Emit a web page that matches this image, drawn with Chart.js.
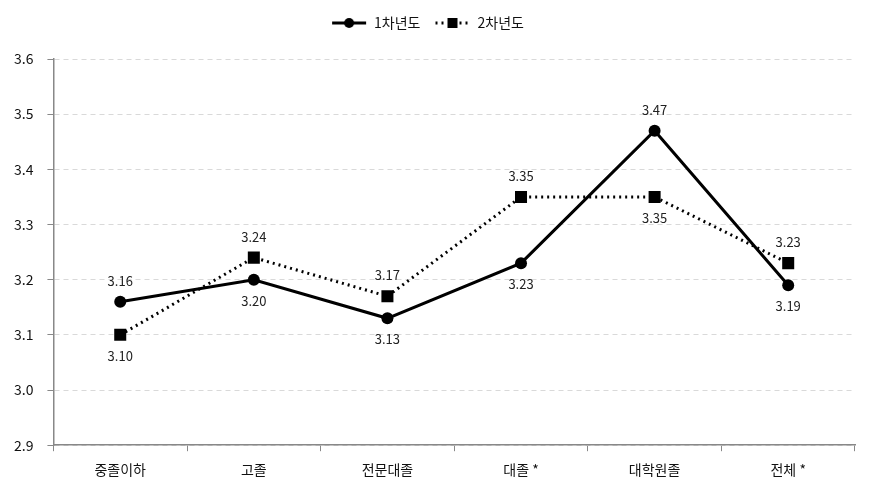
<!DOCTYPE html>
<html>
<head>
<meta charset="utf-8">
<script src="https://cdn.jsdelivr.net/npm/chart.js@4/dist/chart.umd.min.js"></script>
<style>
  html, body { margin: 0; padding: 0; background: #fff; }
  #wrap { width: 871px; height: 493px; }
</style>
</head>
<body>
<div id="wrap"><canvas id="grafico"></canvas></div>
<script>
// Datos del gráfico
const categorias = ['중졸이하', '고졸', '전문대졸', '대졸 *', '대학원졸', '전체 *'];
const anio1 = [3.16, 3.20, 3.13, 3.23, 3.47, 3.19];
const anio2 = [3.10, 3.24, 3.17, 3.35, 3.35, 3.23];
const etiquetasY = ['2.9', '3.0', '3.1', '3.2', '3.3', '3.4', '3.5', '3.6'];

// Posición de las etiquetas (arriba / abajo)
const posAnio1 = ['up', 'down', 'down', 'down', 'up', 'down'];
const posAnio2 = ['down', 'up', 'up', 'up', 'down', 'up'];

const fuente = "'Noto Sans CJK KR', 'Noto Sans', sans-serif";

// Icono de leyenda: línea + marcador
function iconoLeyenda(punteado, forma) {
    const c = document.createElement('canvas');
    c.width = 36; c.height = 14;
    const g = c.getContext('2d');
    g.strokeStyle = '#000';
    g.fillStyle = '#000';
    g.lineWidth = 3;
    if (punteado) g.setLineDash([2, 4]);
    g.beginPath(); g.moveTo(1, 7); g.lineTo(35, 7); g.stroke();
    g.setLineDash([]);
    if (forma === 'circle') {
        g.beginPath(); g.arc(18, 7, 5, 0, Math.PI * 2); g.fill();
    } else {
        g.fillRect(13, 2, 10, 10);
    }
    return c;
}

// Plugin para las etiquetas de valores
const etiquetasValores = {
    id: 'etiquetasValores',
    afterDatasetsDraw(chart) {
        const ctx = chart.ctx;
        ctx.save();
        ctx.font = '13px ' + fuente;
        ctx.fillStyle = '#222';
        ctx.textAlign = 'center';
        ctx.textBaseline = 'middle';
        chart.data.datasets.forEach((ds, i) => {
            const meta = chart.getDatasetMeta(i);
            const pos = i === 0 ? posAnio1 : posAnio2;
            meta.data.forEach((p, j) => {
                const dy = pos[j] === 'up' ? -21 : 21;
                ctx.fillText(ds.data[j].toFixed(2), p.x, p.y + dy);
            });
        });
        ctx.restore();
    }
};

// Más espacio debajo de la leyenda
const espacioLeyenda = {
    id: 'espacioLeyenda',
    beforeInit(chart) {
        const fitOriginal = chart.legend.fit;
        chart.legend.fit = function () {
            fitOriginal.bind(chart.legend)();
            this.height += 19;
        };
    }
};

const data = {
    labels: categorias,
    datasets: [{
        label: '1차년도',
        data: anio1,
        borderColor: '#000',
        backgroundColor: '#000',
        borderWidth: 3,
        pointStyle: 'circle',
        pointRadius: 6,
        pointHoverRadius: 6,
        pointBorderWidth: 0,
        tension: 0
    }, {
        label: '2차년도',
        data: anio2,
        borderColor: '#000',
        backgroundColor: '#000',
        borderWidth: 3,
        borderDash: [2, 4],
        pointStyle: 'rect',
        pointRadius: 8.5,
        pointHoverRadius: 8.5,
        pointBorderWidth: 0,
        tension: 0
    }]
};

const iconos = [iconoLeyenda(false, 'circle'), iconoLeyenda(true, 'rect')];

const config = {
    type: 'line',
    data: data,
    plugins: [etiquetasValores, espacioLeyenda],
    options: {
        responsive: true,
        maintainAspectRatio: false,
        animation: false,
        layout: { padding: { left: 0, right: 16, top: 2, bottom: 5 } },
        plugins: {
            tooltip: { enabled: false },
            legend: {
                position: 'top',
                labels: {
                    usePointStyle: true,
                    pointStyleWidth: 36,
                    boxHeight: 14,
                    padding: 14,
                    color: '#111',
                    font: { family: fuente, size: 14 },
                    generateLabels(chart) {
                        return chart.data.datasets.map((ds, i) => ({
                            text: ds.label,
                            pointStyle: iconos[i],
                            fillStyle: '#000',
                            strokeStyle: '#000',
                            lineWidth: 0,
                            hidden: false,
                            datasetIndex: i,
                            fontColor: '#111'
                        }));
                    }
                }
            }
        },
        scales: {
            x: {
                offset: true,
                grid: {
                    offset: true,
                    drawOnChartArea: false,
                    drawTicks: true,
                    tickLength: 6,
                    tickColor: '#888'
                },
                border: { color: '#888', width: 1.5 },
                ticks: {
                    color: '#111',
                    padding: 10,
                    font: { family: fuente, size: 14 }
                }
            },
            y: {
                min: 2.9,
                max: 3.6,
                grid: {
                    color: '#d9d9d9',
                    tickColor: '#888',
                    tickLength: 6,
                    tickBorderDash: []
                },
                border: { color: '#888', width: 1.5, dash: [5, 4] },
                ticks: {
                    stepSize: 0.1,
                    color: '#111',
                    padding: 14,
                    font: { family: fuente, size: 14 },
                    callback: (v) => {
                        const i = Math.round((v - 2.9) * 10);
                        return etiquetasY[i];
                    }
                }
            }
        }
    }
};

const ctx = document.getElementById('grafico').getContext('2d');
window.chartInstance = new Chart(ctx, config);
</script>
</body>
</html>
